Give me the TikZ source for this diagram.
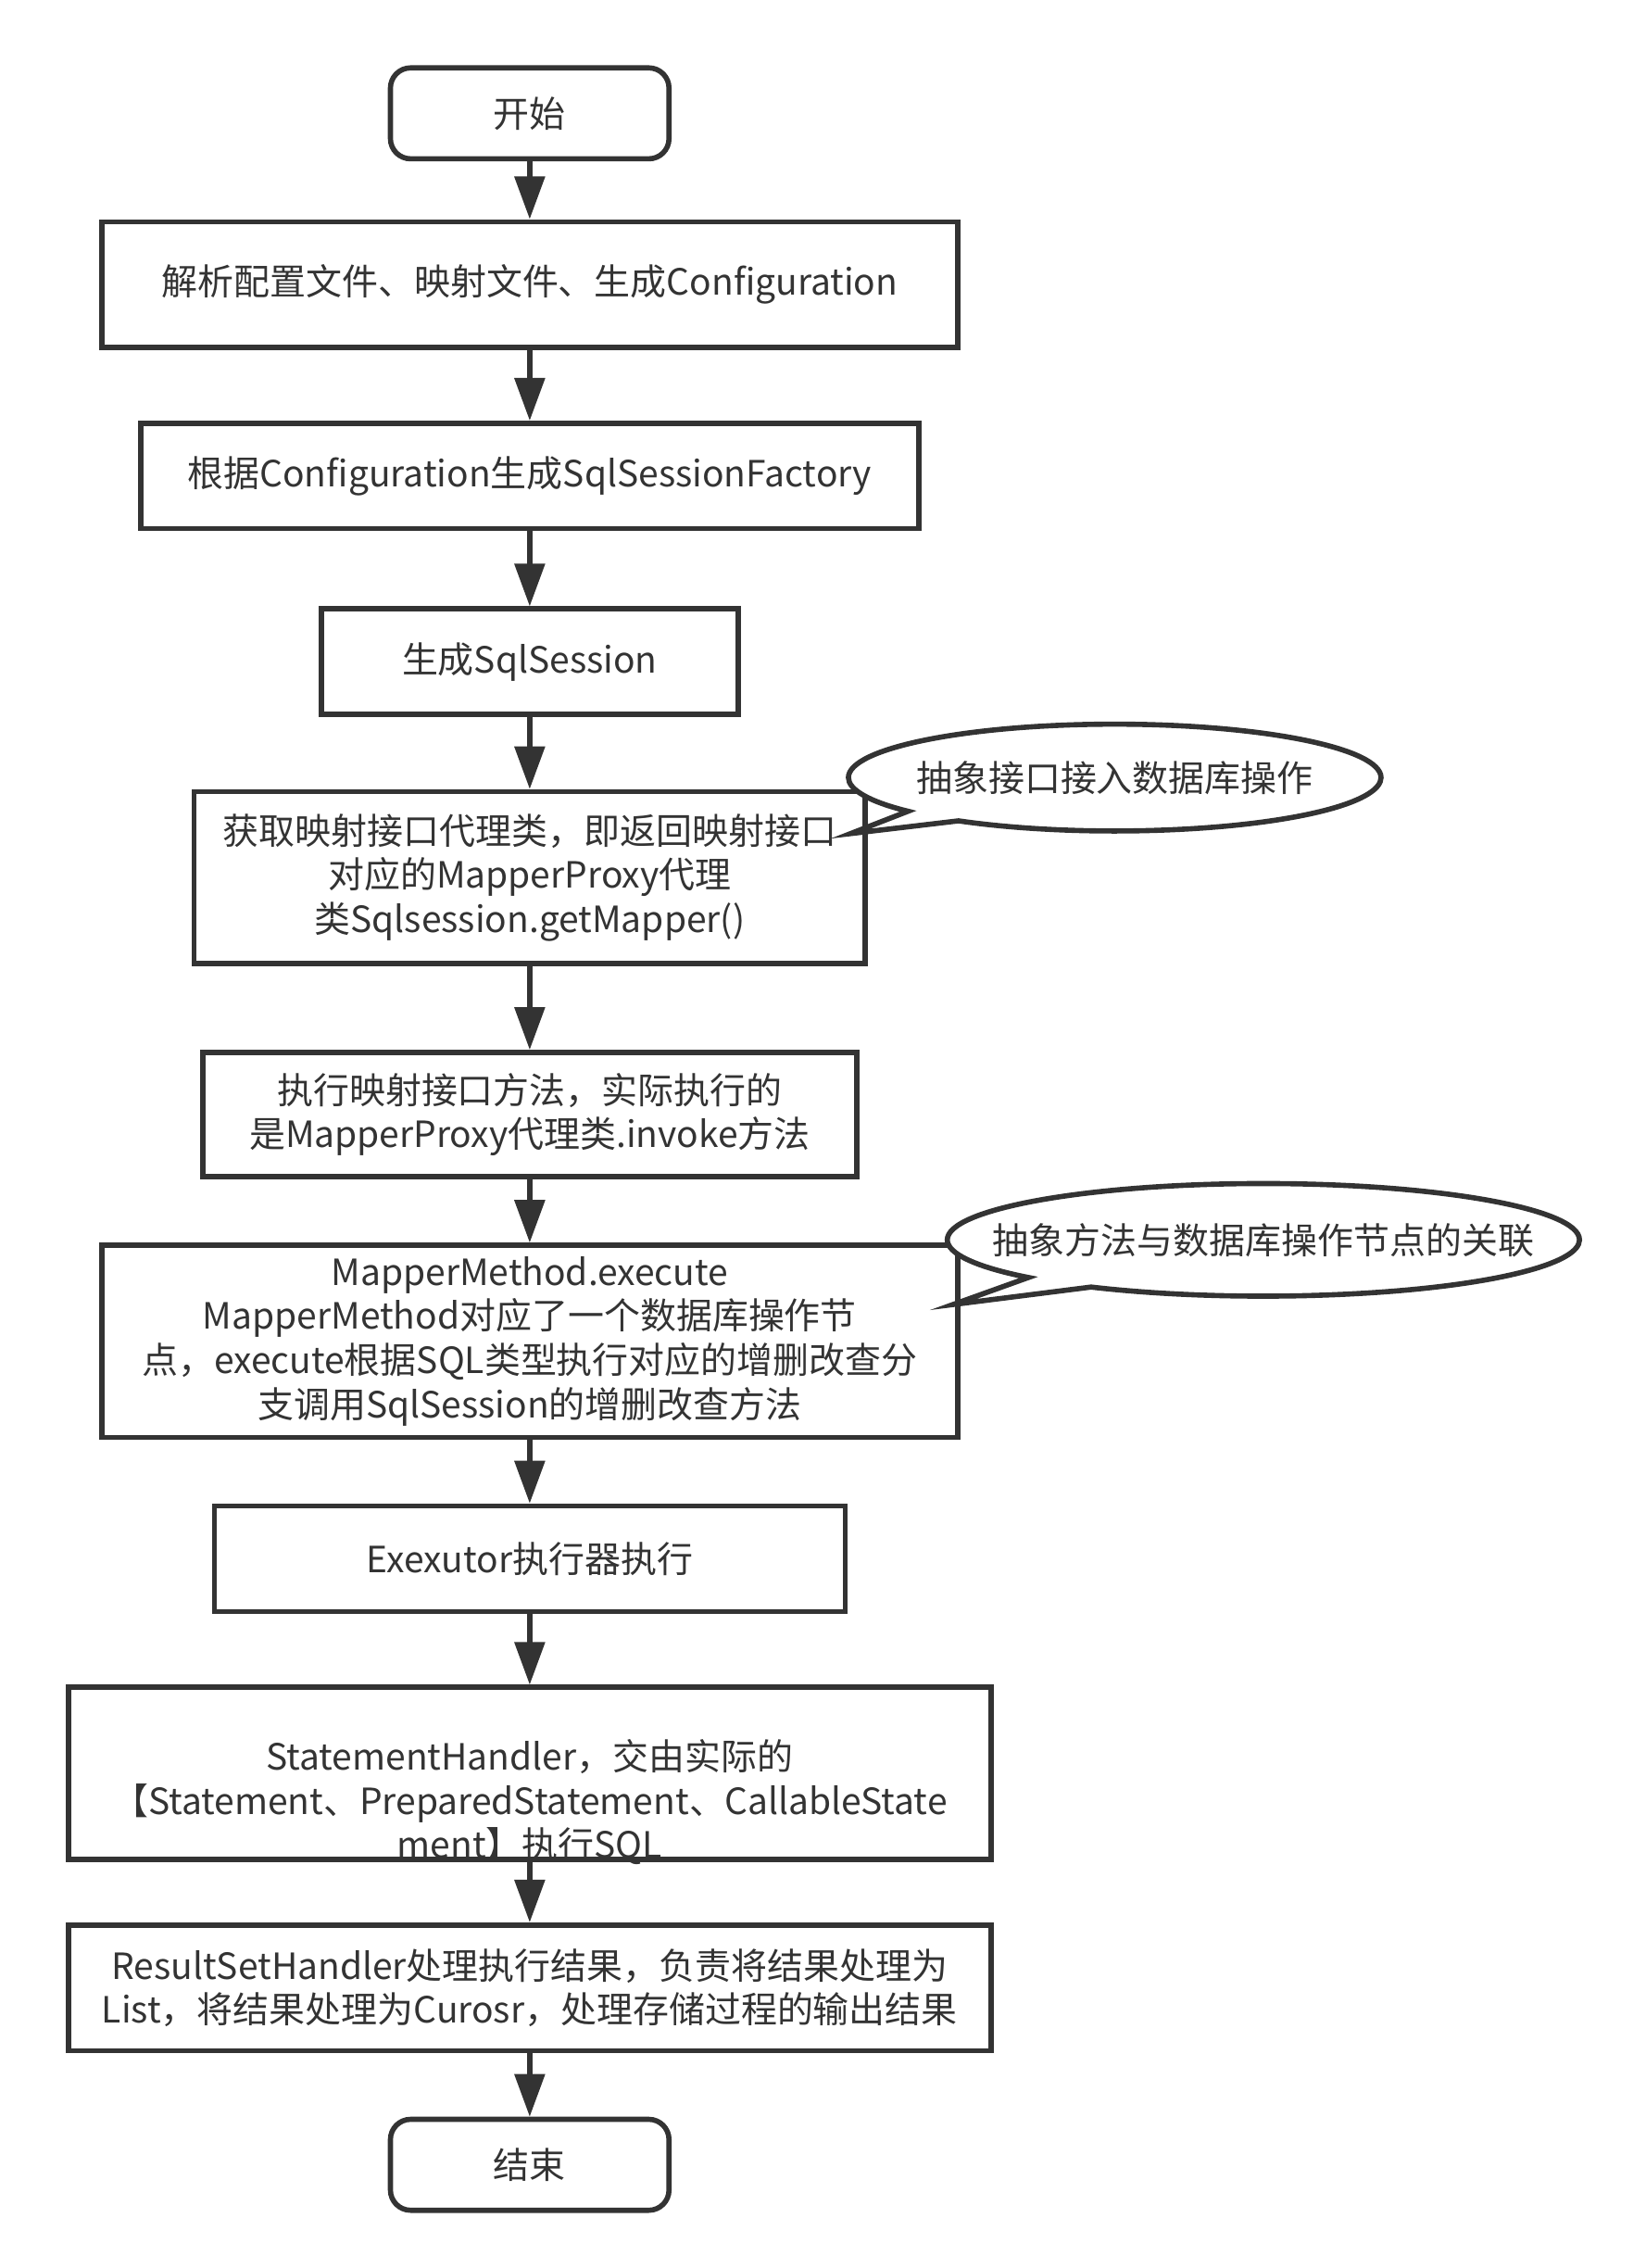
\documentclass[tikz,border=0pt]{standalone}
\usepackage{fontspec}
\setmainfont{Noto Sans CJK SC}
\usepackage{tikz}
\usetikzlibrary{positioning,arrows.meta,shapes.callouts}
\definecolor{linegray}{HTML}{333333}

\begin{document}
\begin{tikzpicture}[
termnode/.style={rectangle, rounded corners=7pt, draw=linegray, line width=1.8pt, text=linegray, minimum width=96.5pt, minimum height=31.5pt, font=\fontsize{12.5pt}{15pt}\selectfont},
procnode/.style={rectangle, draw=linegray, line width=1.8pt, text=linegray, align=center, inner sep=2pt, font=\fontsize{12.5pt}{15.3pt}\selectfont},
notenode/.style={ellipse callout, draw=linegray, fill=white, line width=1.8pt, text=linegray, inner xsep=-20pt, inner ysep=0pt, font=\fontsize{12.5pt}{15pt}\selectfont},
flow/.style={-{Triangle[length=14.8pt, width=10.3pt]}, draw=linegray, fill=linegray, line width=1.8pt}
]
    \useasboundingbox (0,0) rectangle (570pt,-785.5pt);

    %Nodes
    \node[termnode]
        (start)     at (183.5pt,-39.25pt)   {开始};
    \node[procnode, minimum width=296.5pt, minimum height=43.5pt]
        (parse)     [below=20pt of start]   {解析配置文件、映射文件、生成Configuration};
    \node[procnode, minimum width=269.5pt, minimum height=36.5pt]
        (factory)   [below=24.5pt of parse]   {根据Configuration生成SqlSessionFactory};
    \node[procnode, minimum width=144.5pt, minimum height=36.5pt]
        (session)   [below=26pt of factory] {生成SqlSession};
    \node[procnode, minimum width=232.5pt, minimum height=59.5pt]
        (getmapper) [below=25pt of session]
        {获取映射接口代理类，即返回映射接口\\对应的MapperProxy代理\\类Sqlsession.getMapper()};
    \node[procnode, minimum width=226.5pt, minimum height=43pt]
        (invoke)    [below=29pt of getmapper]
        {执行映射接口方法，实际执行的\\是MapperProxy代理类.invoke方法};
    \node[procnode, minimum width=296.5pt, minimum height=66.5pt]
        (execute)   [below=22pt of invoke]
        {MapperMethod.execute\\MapperMethod对应了一个数据库操作节\\点，execute根据SQL类型执行对应的增删改查分\\支调用SqlSession的增删改查方法};
    \node[procnode, minimum width=218.5pt, minimum height=36.5pt]
        (executor)  [below=22pt of execute] {Exexutor执行器执行};
    \node[procnode, minimum width=319.5pt, minimum height=59.5pt]
        (stmt)      [below=24.5pt of executor] {};
    \node[procnode, draw=none]
        (stmttxt)   at ([yshift=-10pt]stmt.center)
        {StatementHandler，交由实际的\\【Statement、PreparedStatement、CallableState\\ment】执行SQL};
    \node[procnode, minimum width=319.5pt, minimum height=43.5pt]
        (result)    [below=21pt of stmt]
        {ResultSetHandler处理执行结果，负责将结果处理为\\List，将结果处理为Curosr，处理存储过程的输出结果};
    \node[termnode]
        (end)       [below=22pt of result]  {结束};

    %Notes
    \node[notenode, minimum width=184.5pt, minimum height=37pt,
        callout absolute pointer={([xshift=-6pt,yshift=15.25pt]getmapper.east)}]
        (note1)     at ([xshift=85.5pt,yshift=4pt]getmapper.north east) {抽象接口接入数据库操作};
    \node[notenode, minimum width=219pt, minimum height=39pt,
        callout absolute pointer={([xshift=-2.5pt,yshift=12.75pt]execute.east)}]
        (note2)     at ([xshift=105pt,yshift=1pt]execute.north east) {抽象方法与数据库操作节点的关联};

    %Lines
    \draw[flow] (start.south) -- (parse.north);
    \draw[flow] (parse.south) -- (factory.north);
    \draw[flow] (factory.south) -- (session.north);
    \draw[flow] (session.south) -- (getmapper.north);
    \draw[flow] (getmapper.south) -- (invoke.north);
    \draw[flow] (invoke.south) -- (execute.north);
    \draw[flow] (execute.south) -- (executor.north);
    \draw[flow] (executor.south) -- (stmt.north);
    \draw[flow] (stmt.south) -- (result.north);
    \draw[flow] (result.south) -- (end.north);
\end{tikzpicture}
\end{document}
